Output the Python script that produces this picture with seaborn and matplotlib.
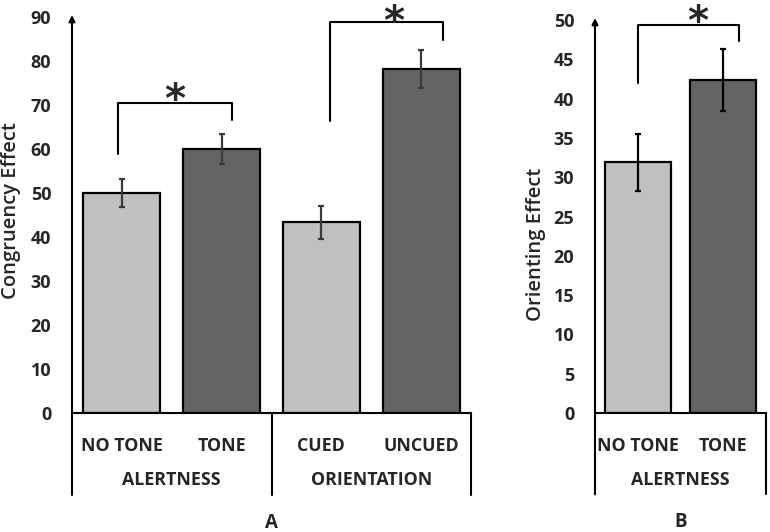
import matplotlib
matplotlib.use("Agg")
import matplotlib.pyplot as plt
import pandas as pd
import seaborn as sns

sns.set_style("white")
plt.rcParams["font.family"] = ["Open Sans", "DejaVu Sans"]

# ---- data ----
# panel A: congruency effect
cond_a = ["NO TONE", "TONE", "CUED", "UNCUED"]
groups_a = ["ALERTNESS", "ORIENTATION"]
congruency = [50.0, 60.0, 43.4, 78.2]
congruency_err = [3.2, 3.3, 3.75, 4.3]

# panel B: orienting effect
cond_b = ["NO TONE", "TONE"]
groups_b = ["ALERTNESS"]
orienting = [31.9, 42.4]
orienting_err = [3.6, 3.95]

# significance brackets: (x left, x right, y left foot, y top, y right foot)
brackets_a = [(-0.04, 1.10, 58.8, 70.4, 66.5), (2.09, 3.22, 66.3, 88.8, 84.8)]
brackets_b = [(0.0, 1.19, 42.0, 49.4, 47.3)]
stars_a = [(0.53, 73.4), (2.73, 91.2)]
stars_b = [(0.70, 51.0)]

LIGHT = "#c0c0c0"
DARK = "#646464"


def draw_panel(ax, cond, values, err, groups, ymax, ystep, ylabel, letter,
               brackets, stars, ecolor, label_x, label_y):
    df = pd.DataFrame({"cond": cond, "value": values})
    colors = [LIGHT, DARK] * (len(cond) // 2)
    sns.barplot(data=df, x="cond", y="value", hue="cond", palette=colors,
                width=0.77, edgecolor="black", linewidth=1.6, legend=False,
                ax=ax)
    ax.errorbar(range(len(cond)), values, yerr=err, fmt="none",
                ecolor=ecolor, elinewidth=1.6, capsize=2.5, capthick=1.6)

    ax.set_xlim(-0.5, len(cond) - 0.5)
    ax.set_ylim(0, ymax)
    ax.set_yticks(range(0, ymax + 1, ystep))
    ax.tick_params(axis="y", length=0, pad=15, labelsize=13)
    ax.tick_params(axis="x", length=0, pad=17, labelsize=12.8)
    for t in ax.get_yticklabels() + ax.get_xticklabels():
        t.set_fontweight("bold")
    ax.set_xlabel("")
    ax.set_ylabel(ylabel, fontsize=14.5, fontweight="semibold")
    ax.yaxis.set_label_coords(label_x, label_y)

    for s in ["top", "right", "left"]:
        ax.spines[s].set_visible(False)
    ax.spines["bottom"].set_linewidth(1.5)
    ax.spines["bottom"].set_color("black")

    # y axis with arrow, continuing down through the category table
    ax.annotate("", xy=(0, 1.005), xytext=(0, -0.207), xycoords="axes fraction",
                arrowprops=dict(arrowstyle="-|>", color="black", lw=1.5,
                                mutation_scale=9, shrinkA=0, shrinkB=0),
                annotation_clip=False)

    # group separators and labels
    tr = ax.get_xaxis_transform()
    for i, g in enumerate(groups):
        right = 2 * i + 1.5
        ax.plot([right, right], [0, -0.207], color="black", lw=1.5,
                transform=tr, clip_on=False)
        ax.text(2 * i + 0.5, -0.17, g, transform=tr, ha="center", va="center",
                fontsize=12.8, fontweight="bold")
    ax.text(0.5, -0.278, letter, transform=ax.transAxes, ha="center",
            va="center", fontsize=13.5, fontweight="bold")

    # significance brackets
    for x0, x1, y0, ytop, y1 in brackets:
        ax.plot([x0, x0, x1, x1], [y0, ytop, ytop, y1], color="black",
                lw=1.5, clip_on=False)
    for x, y in stars:
        ax.annotate("*", xy=(x, y), xytext=(0, -8), textcoords="offset points",
                    ha="center", va="center", fontsize=29, fontweight="bold",
                    family="DejaVu Sans", annotation_clip=False)


fig = plt.figure(figsize=(7.7, 5.32), dpi=100)
ax_a = fig.add_axes([72 / 770, 1 - 413 / 532, 399 / 770, 396 / 532])
ax_b = fig.add_axes([595 / 770, 1 - 413 / 532, 171 / 770, 393 / 532])

draw_panel(ax_a, cond_a, congruency, congruency_err, groups_a, 90, 10,
           "Congruency Effect", "A", brackets_a, stars_a, "#3a3a3a",
           -0.128, 0.51)
draw_panel(ax_b, cond_b, orienting, orienting_err, groups_b, 50, 5,
           "Orienting Effect", "B", brackets_b, stars_b, "black",
           -0.285, 0.43)

fig.savefig("out.png", dpi=100)
